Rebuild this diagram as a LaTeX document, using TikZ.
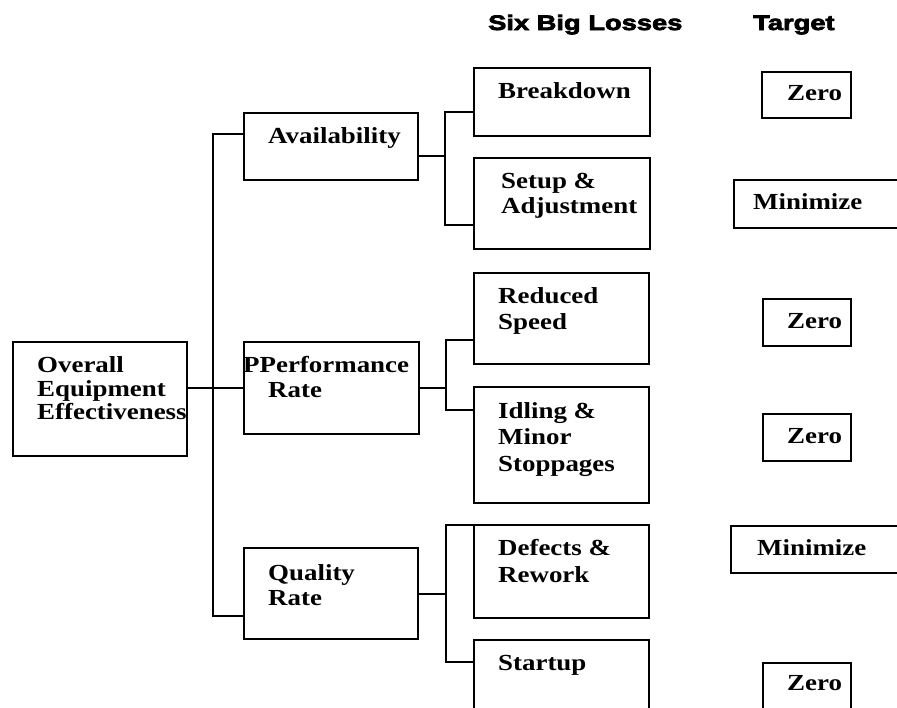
\documentclass[tikz,border=0pt]{standalone}
\usepackage{fontspec}
\setmainfont{Liberation Serif}[FakeStretch=1.17]
\newfontfamily\headfont{Liberation Sans Bold}[FakeStretch=1.3,FakeBold=3.5]
\usetikzlibrary{calc}
\begin{document}
\begin{tikzpicture}[x=1pt,y=-1pt,
  bx/.style={draw,line width=2.4pt,inner sep=0pt,anchor=north west},
  ln/.style={line width=2pt},
  txt/.style={anchor=base west,inner sep=0pt,font=\fontsize{23}{26}\selectfont\bfseries},
  hd/.style={anchor=base west,inner sep=0pt,font=\headfont\fontsize{21}{24}\selectfont}]
\useasboundingbox (0,0) rectangle (897,707);
\clip (0,0) rectangle (897,707);

% boxes
\node[bx,minimum width=174pt,minimum height=114pt] (oee) at (12,341) {};
\node[bx,minimum width=174pt,minimum height=67pt] (avail) at (243,112) {};
\node[bx,minimum width=175pt,minimum height=92pt] (perf) at (243,341) {};
\node[bx,minimum width=174pt,minimum height=91pt] (qual) at (243,547) {};
\node[bx,minimum width=176pt,minimum height=68pt] (brk) at (473,67) {};
\node[bx,minimum width=176pt,minimum height=91pt] (setup) at (473,157) {};
\node[bx,minimum width=175pt,minimum height=91pt] (red) at (473,272) {};
\node[bx,minimum width=175pt,minimum height=116pt] (idl) at (473,386) {};
\node[bx,minimum width=175pt,minimum height=93pt] (def) at (473,524) {};
\node[bx,minimum width=175pt,minimum height=80pt] (start) at (473,639) {};
\node[bx,minimum width=89pt,minimum height=46pt] (z1) at (761,71) {};
\node[bx,minimum width=180pt,minimum height=48pt] (min1) at (733,179) {};
\node[bx,minimum width=88pt,minimum height=47pt] (z2) at (762,298) {};
\node[bx,minimum width=88pt,minimum height=47pt] (z3) at (762,413) {};
\node[bx,minimum width=183pt,minimum height=47pt] (min2) at (730,525) {};
\node[bx,minimum width=88pt,minimum height=60pt] (z4) at (762,662) {};

% connectors
\coordinate (tA) at (213,134);
\coordinate (tQ) at (213,616);
\draw[ln] (tA -| avail.west) -- (tA) -- (tQ) -- (tQ -| qual.west);
\draw[ln] (oee.east |- perf.west) -- (perf.west);

\coordinate (aJ) at (445,156);
\coordinate (aT) at (445,112);
\coordinate (aB) at (445,225);
\draw[ln] (avail.east |- aJ) -- (aJ);
\draw[ln] (aT -| brk.west) -- (aT) -- (aB) -- (aB -| setup.west);

\coordinate (pT) at (446,340);
\coordinate (pB) at (446,410);
\draw[ln] (perf.east) -- (perf.east -| pT);
\draw[ln] (pT -| red.west) -- (pT) -- (pB) -- (pB -| idl.west);

\coordinate (qT) at (446,525);
\coordinate (qB) at (446,662);
\draw[ln] (qual.east) -- (qual.east -| qT);
\draw[ln] (qT -| def.west) -- (qT) -- (qB) -- (qB -| start.west);

% texts
\node[hd] (h1) at (488,30) {Six Big Losses};
\node[hd] (h2) at (753,30) {Target};

\node[txt] (o1) at (37,372) {Overall};
\node[txt] (o2) at (37,396) {Equipment};
\begin{scope}
\clip (12,341) rectangle (186,455);
\node[txt] (o3) at (37,419) {Effectiveness};
\end{scope}

\node[txt] (a1) at (268,143) {Availability};
\node[txt] (p1) at (243,372) {PPerformance};
\node[txt] (p2) at (268,397) {Rate};
\node[txt] (q1) at (268,580) {Quality};
\node[txt] (q2) at (268,605) {Rate};

\node[txt] (b1) at (498,98) {Breakdown};
\node[txt] (s1) at (501,188) {Setup \&};
\node[txt] (s2) at (501,213) {Adjustment};
\node[txt] (r1) at (498,303) {Reduced};
\node[txt] (r2) at (498,329) {Speed};
\node[txt] (i1) at (498,418) {Idling \&};
\node[txt] (i2) at (498,444) {Minor};
\node[txt] (i3) at (498,471) {Stoppages};
\node[txt] (d1) at (498,555) {Defects \&};
\node[txt] (d2) at (498,582) {Rework};
\node[txt] (st1) at (498,670) {Startup};

\node[txt] (zt1) at (787,100) {Zero};
\node[txt] (mt1) at (753,209) {Minimize};
\node[txt] (zt2) at (787,328) {Zero};
\node[txt] (zt3) at (787,443) {Zero};
\node[txt] (mt2) at (757,555) {Minimize};
\node[txt] (zt4) at (787,690) {Zero};
\end{tikzpicture}
\end{document}
